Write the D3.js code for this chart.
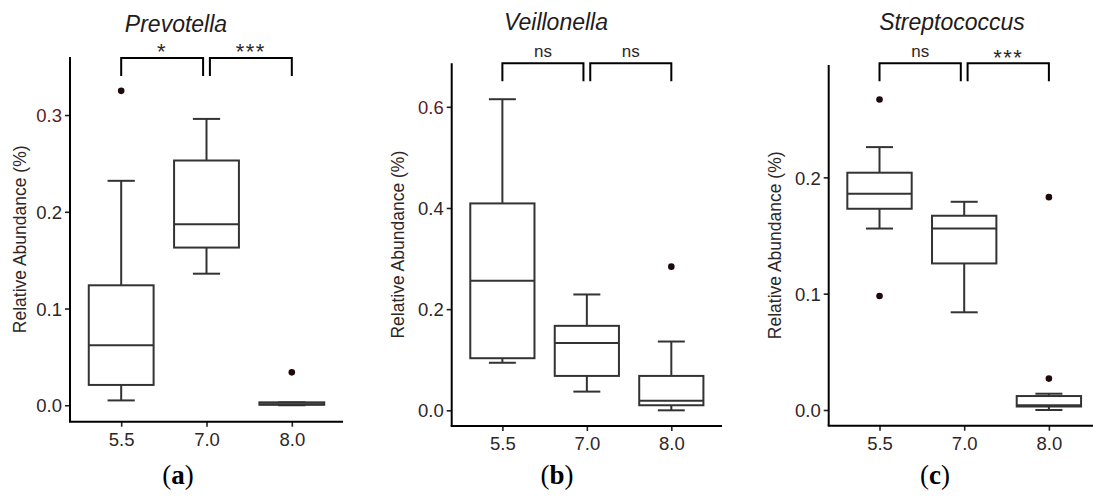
<!DOCTYPE html>
<html>
<head>
<meta charset="utf-8">
<script src="https://cdn.jsdelivr.net/npm/d3@7"></script>
<style>
  body { margin: 0; background: #fff; }
  svg { display: block; font-family: "Liberation Sans", Arial, Helvetica, sans-serif; }
</style>
</head>
<body>
<svg id="chart" width="1093" height="501"></svg>
<script>
// pH groups on the x axis
var categories = ["5.5", "7.0", "8.0"];

// five-number summaries per group: [lower whisker, Q1, median, Q3, upper whisker]
var prevotellaBoxes = [[0.005, 0.021, 0.062, 0.124, 0.232], [0.136, 0.163, 0.187, 0.253, 0.296], [0.000, 0.0005, 0.001, 0.003, 0.003]];
var prevotellaOutliers = [[0.325], [], [0.034]];
var prevotellaTicks = [0.0, 0.1, 0.2, 0.3];
var prevotellaSig = ["*", "***"];
var prevotellaBracketY = 0.359;

var veillonellaBoxes = [[0.094, 0.103, 0.256, 0.409, 0.615], [0.037, 0.068, 0.133, 0.167, 0.229], [0.000, 0.010, 0.019, 0.068, 0.136]];
var veillonellaOutliers = [[], [], [0.284]];
var veillonellaTicks = [0.0, 0.2, 0.4, 0.6];
var veillonellaSig = ["ns", "ns"];
var veillonellaBracketY = 0.686;

var streptococcusBoxes = [[0.156, 0.173, 0.186, 0.204, 0.226], [0.084, 0.126, 0.156, 0.167, 0.179], [0.000, 0.003, 0.004, 0.012, 0.014]];
var streptococcusOutliers = [[0.267, 0.098], [], [0.183, 0.027]];
var streptococcusTicks = [0.0, 0.1, 0.2];
var streptococcusSig = ["ns", "***"];
var streptococcusBracketY = 0.298;

var panels = [
  { title: "Prevotella", letter: "a", boxes: prevotellaBoxes, outliers: prevotellaOutliers, ticks: prevotellaTicks, sig: prevotellaSig, bracketY: prevotellaBracketY,
    left: 70, right: 343, top: 57, bottom: 421.7, domain: [-0.017, 0.360], labelX: 20, titleX: 176, titleY: 31.5, letterX: 178 },
  { title: "Veillonella", letter: "b", boxes: veillonellaBoxes, outliers: veillonellaOutliers, ticks: veillonellaTicks, sig: veillonellaSig, bracketY: veillonellaBracketY,
    left: 451.7, right: 722, top: 63.3, bottom: 426, domain: [-0.031, 0.686], labelX: 398, titleX: 556, titleY: 29.5, letterX: 557 },
  { title: "Streptococcus", letter: "c", boxes: streptococcusBoxes, outliers: streptococcusOutliers, ticks: streptococcusTicks, sig: streptococcusSig, bracketY: streptococcusBracketY,
    left: 828.7, right: 1099.7, top: 65, bottom: 425.7, domain: [-0.0135, 0.2966], labelX: 775, titleX: 952, titleY: 30, letterX: 935 }
];

var svg = d3.select("#chart");
var boxColor = "#333333";
var textColor = "#2e2626";

function drawPanel(p) {
  var g = svg.append("g");

  // discrete axis, ggplot style: 0.6 units of padding on each side
  var x = d3.scalePoint().domain(categories).range([p.left, p.right]).padding(0.6);
  var y = d3.scaleLinear().domain(p.domain).range([p.bottom, p.top]);
  var boxW = x.step() * 0.76;
  var capW = boxW * 0.42;

  // boxes
  var box = g.selectAll("g.box").data(p.boxes).enter().append("g")
      .attr("class", "box")
      .attr("transform", function(d, i) { return "translate(" + x(categories[i]) + ",0)"; })
      .attr("stroke", boxColor).attr("stroke-width", 2).attr("fill", "none");

  box.append("line").attr("x1", 0).attr("x2", 0)
      .attr("y1", function(d) { return y(d[4]); }).attr("y2", function(d) { return y(d[3]); });
  box.append("line").attr("x1", 0).attr("x2", 0)
      .attr("y1", function(d) { return y(d[1]); }).attr("y2", function(d) { return y(d[0]); });
  box.append("line").attr("x1", -capW / 2).attr("x2", capW / 2)
      .attr("y1", function(d) { return y(d[4]); }).attr("y2", function(d) { return y(d[4]); });
  box.append("line").attr("x1", -capW / 2).attr("x2", capW / 2)
      .attr("y1", function(d) { return y(d[0]); }).attr("y2", function(d) { return y(d[0]); });
  box.append("rect").attr("x", -boxW / 2).attr("width", boxW)
      .attr("y", function(d) { return y(d[3]); })
      .attr("height", function(d) { return Math.max(0, y(d[1]) - y(d[3])); })
      .attr("fill", "#fff");
  box.append("line").attr("x1", -boxW / 2).attr("x2", boxW / 2)
      .attr("y1", function(d) { return y(d[2]); }).attr("y2", function(d) { return y(d[2]); });

  // outliers
  p.outliers.forEach(function(vals, i) {
    g.selectAll(null).data(vals).enter().append("circle")
        .attr("cx", x(categories[i])).attr("cy", function(v) { return y(v); })
        .attr("r", 3.3).attr("fill", "#1e0a0a");
  });

  // y axis
  var yAxis = g.append("g").attr("transform", "translate(" + p.left + ",0)")
      .call(d3.axisLeft(y).tickValues(p.ticks).tickFormat(d3.format(".1f")).tickSize(5).tickPadding(3));
  yAxis.select(".domain").remove();
  yAxis.append("line").attr("x1", 0).attr("x2", 0).attr("y1", p.top).attr("y2", p.bottom)
      .attr("stroke", "#000").attr("stroke-width", 2);
  yAxis.selectAll(".tick line").attr("stroke", "#222").attr("stroke-width", 1.6);
  yAxis.selectAll(".tick text").attr("font-size", 18.5).attr("fill", function(d, i) {
    return i === p.ticks.length - 1 && p.letter !== "c" ? "#5e1c1c" : textColor;
  }).attr("dy", "0.36em");

  // x axis
  var xAxis = g.append("g").attr("transform", "translate(0," + p.bottom + ")")
      .call(d3.axisBottom(x).tickSize(5).tickPadding(6));
  xAxis.select(".domain").remove();
  xAxis.append("line").attr("x1", p.left - 1).attr("x2", p.right).attr("y1", 0).attr("y2", 0)
      .attr("stroke", "#000").attr("stroke-width", 2);
  xAxis.selectAll(".tick line").attr("stroke", "#222").attr("stroke-width", 1.6);
  xAxis.selectAll(".tick text").attr("font-size", 18.5).attr("fill", textColor);

  // axis title
  g.append("text")
      .attr("transform", "translate(" + p.labelX + "," + ((p.top + p.bottom) / 2) + ") rotate(-90)")
      .attr("text-anchor", "middle").attr("dy", "0.35em")
      .attr("font-size", 17.5).attr("fill", textColor)
      .text("Relative Abundance (%)");

  // plot title
  g.append("text").attr("x", p.titleX).attr("y", p.titleY)
      .attr("text-anchor", "middle").attr("font-size", 23).attr("font-style", "italic")
      .attr("fill", "#231a1a").text(p.title);

  // significance brackets
  var yb = y(p.bracketY);
  var tip = 18;
  var pairs = [[0, 1], [1, 2]];
  pairs.forEach(function(pr, k) {
    var x1 = x(categories[pr[0]]) + (k === 1 ? 3.4 : 0);
    var x2 = x(categories[pr[1]]) - (k === 0 ? 3.4 : 0);
    g.append("path")
        .attr("d", "M" + x1 + "," + (yb + tip) + "V" + yb + "H" + x2 + "V" + (yb + tip))
        .attr("fill", "none").attr("stroke", "#000").attr("stroke-width", 2);
    var lab = p.sig[k];
    var isStar = lab.indexOf("*") >= 0;
    g.append("text").attr("x", (x1 + x2) / 2).attr("y", isStar ? yb + 1.5 : yb - 6.5)
        .attr("text-anchor", "middle")
        .attr("font-size", isStar ? 22 : 17)
        .attr("letter-spacing", isStar ? 1.5 : 0)
        .attr("fill", textColor).text(lab);
  });

  // panel letter
  var lt = g.append("text").attr("x", p.letterX).attr("y", 484)
      .attr("text-anchor", "middle").attr("font-size", 27)
      .attr("font-family", "'Liberation Serif', 'DejaVu Serif', serif").attr("fill", "#000");
  lt.append("tspan").text("(");
  lt.append("tspan").attr("font-weight", "bold").text(p.letter);
  lt.append("tspan").text(")");
}

panels.forEach(drawPanel);
</script>
</body>
</html>
